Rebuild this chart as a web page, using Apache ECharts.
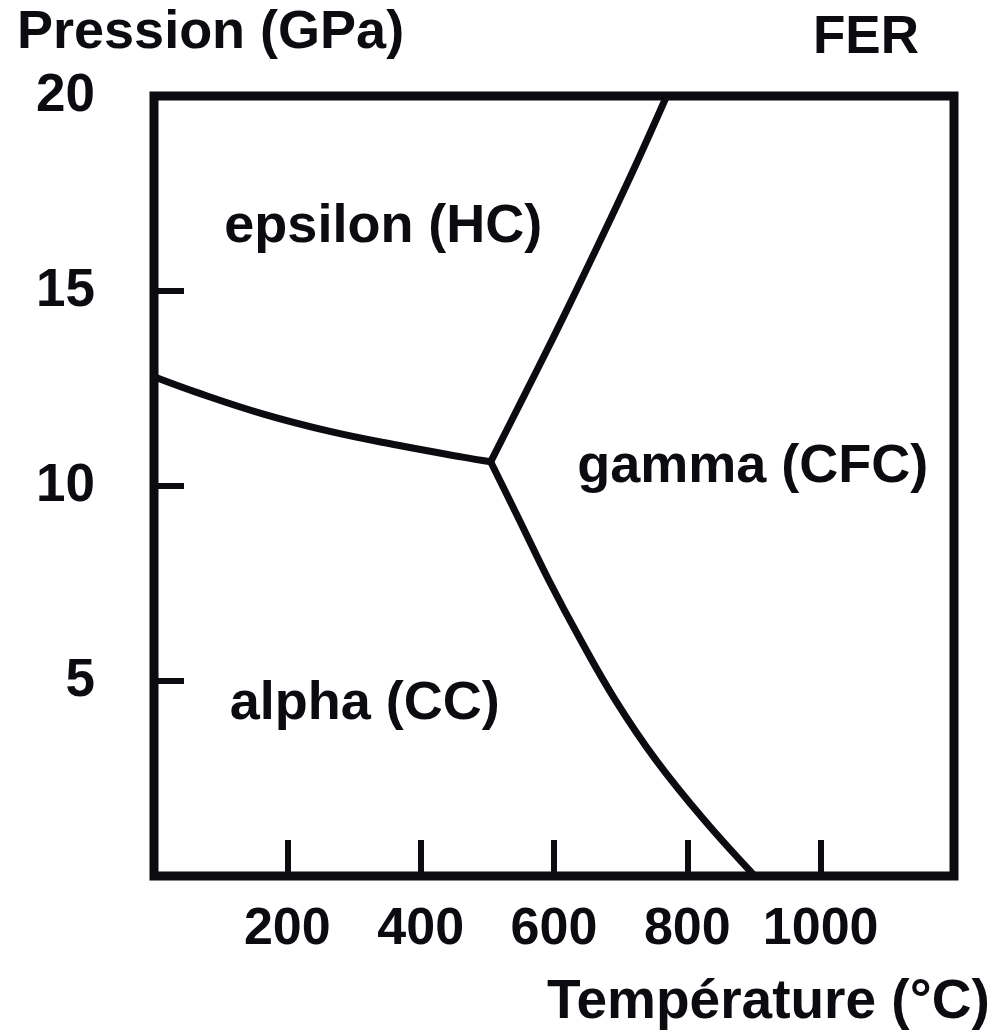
<!DOCTYPE html>
<html>
<head>
<meta charset="utf-8">
<script src="https://cdn.jsdelivr.net/npm/echarts@6/dist/echarts.min.js"></script>
<style>
html,body{margin:0;padding:0;background:#fff;}
#chart{width:995px;height:1034px;}
</style>
</head>
<body>
<div id="chart"></div>
<script>
// ---- data (Température °C, Pression GPa) ----
const xTickLabels = ['200', '400', '600', '800', '1000'];
const yTickLabels = ['5', '10', '15', '20'];

// alpha / epsilon boundary
const alphaEpsilon = [[0, 12.8], [64, 12.4], [163, 11.85], [264, 11.4], [364, 11.05], [463, 10.74], [505, 10.62]];
// epsilon / gamma boundary
const epsilonGamma = [[505, 10.62], [552, 12.21], [597, 13.74], [641, 15.28], [684, 16.82], [726, 18.36], [769, 20]];
// alpha / gamma boundary
const alphaGamma = [[505, 10.62], [548, 9.13], [592, 7.59], [640, 6.05], [692, 4.51], [753, 2.97], [825, 1.44], [901, 0]];

// phase labels
const regionNames = ['epsilon (HC)', 'gamma (CFC)', 'alpha (CC)'];
const regionX = [344, 898, 316];
const regionY = [16.63, 10.49, 4.41];

const yAxisTitle = 'Pression (GPa)';
const xAxisTitle = 'Température (°C)';
const chartTitle = 'FER';

// ---- styling ----
const INK = '#0b0b10';
const BASE = "'Liberation Sans', Arial, Helvetica, sans-serif";

const lineStyle = { color: INK, width: 7, cap: 'round', join: 'round' };

const chart = echarts.init(document.getElementById('chart'), null, { renderer: 'canvas' });
chart.setOption({
  animation: false,
  backgroundColor: '#ffffff',
  grid: {
    left: 154, right: 41, top: 96, bottom: 158,
    show: true, borderColor: INK, borderWidth: 9, backgroundColor: 'transparent'
  },
  xAxis: {
    type: 'value', min: 0, max: 1200, interval: 200,
    axisLine: { show: false },
    splitLine: { show: false },
    axisTick: { show: true, inside: true, length: 36, lineStyle: { color: INK, width: 6 } },
    axisLabel: {
      show: true, margin: 28, color: INK,
      fontFamily: BASE, fontWeight: 'bold', fontSize: 52,
      formatter: v => xTickLabels.includes(String(v)) ? String(v) : ''
    }
  },
  yAxis: {
    type: 'value', min: 0, max: 20, interval: 5,
    axisLine: { show: false },
    splitLine: { show: false },
    axisTick: { show: true, inside: true, length: 30, lineStyle: { color: INK, width: 6 } },
    axisLabel: {
      show: true, margin: 59, color: INK,
      fontFamily: BASE, fontWeight: 'bold', fontSize: 53,
      formatter: v => yTickLabels.includes(String(v)) ? String(v) : ''
    }
  },
  series: [
    { type: 'line', data: alphaEpsilon, symbol: 'none', smooth: 0.4, lineStyle: lineStyle, clip: false, z: 3 },
    { type: 'line', data: epsilonGamma, symbol: 'none', smooth: 0.4, lineStyle: lineStyle, clip: false, z: 3 },
    { type: 'line', data: alphaGamma, symbol: 'none', smooth: 0.4, lineStyle: lineStyle, clip: false, z: 3 },
    {
      type: 'scatter', symbolSize: 0, silent: true,
      itemStyle: { opacity: 1 },
      data: regionNames.map((n, i) => ({ name: n, value: [regionX[i], regionY[i]] })),
      label: {
        show: true, position: 'inside', formatter: p => p.name,
        color: INK, opacity: 1, fontFamily: BASE, fontWeight: 'bold', fontSize: 54
      }
    }
  ],
  graphic: [
    { type: 'text', x: 17, y: 33, style: { text: yAxisTitle, fill: INK, font: "bold 54px " + BASE, align: 'left', verticalAlign: 'middle', textAlign: 'left', textVerticalAlign: 'middle' } },
    { type: 'text', x: 813, y: 38, style: { text: chartTitle, fill: INK, font: "bold 53px " + BASE, align: 'left', verticalAlign: 'middle', textAlign: 'left', textVerticalAlign: 'middle' } },
    { type: 'text', x: 547, y: 1003, style: { text: xAxisTitle, fill: INK, font: "bold 55px " + BASE, align: 'left', verticalAlign: 'middle', textAlign: 'left', textVerticalAlign: 'middle' } }
  ]
});
</script>
</body>
</html>
